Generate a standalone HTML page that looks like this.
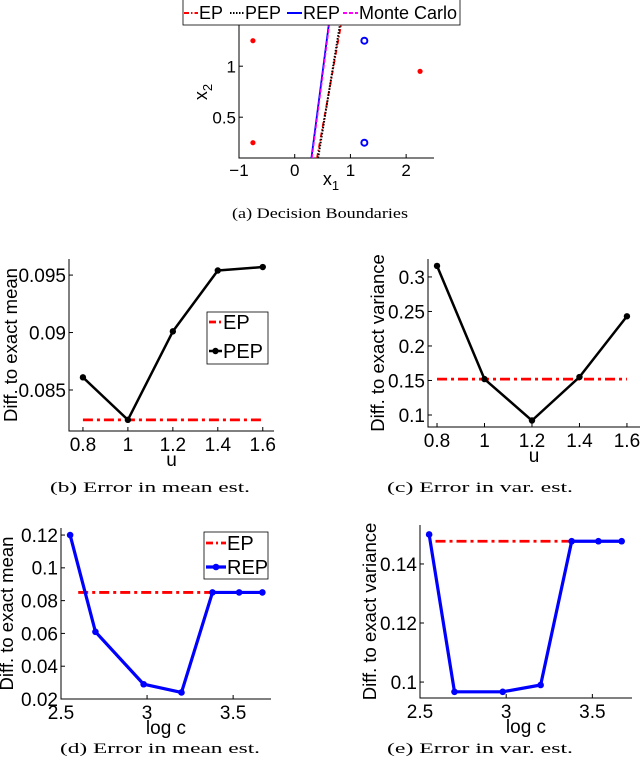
<!DOCTYPE html>
<html><head><meta charset="utf-8">
<style>
html,body{margin:0;padding:0;background:#fff;}
svg{display:block;}
text{font-family:"Liberation Sans",sans-serif;fill:#000;}
.cap{font-family:"Liberation Serif",serif;}
</style></head>
<body>
<svg id="fig" width="640" height="768" viewBox="0 0 640 768" xmlns="http://www.w3.org/2000/svg"></svg>
<script>
// ---- data ----
const aRedX=[-0.75,-0.75,2.25];
const aRedY=[0.25,1.25,0.95];
const aBlueX=[1.25,1.25];
const aBlueY=[1.25,0.25];
const aEPX=[0.40,0.83]; const aEPY=[0.1,1.4];
const aPEPX=[0.42,0.81]; const aPEPY=[0.1,1.4];
const aREPX=[0.30,0.61]; const aREPY=[0.1,1.4];
const aMCX=[0.31,0.62]; const aMCY=[0.1,1.4];
const aXTicks=[-1,0,1,2]; const aYTicks=[0.5,1];

const uVals=[0.8,1.0,1.2,1.4,1.6];
const bPEP=[0.0861,0.0824,0.0901,0.0954,0.0957];
const bEP=0.0824;
const bYTicks=[0.085,0.09,0.095];
const bYLabels=["0.085","0.09","0.095"];
const cPEP=[0.316,0.152,0.092,0.155,0.243];
const cEP=0.152;
const cYTicks=[0.1,0.15,0.2,0.25,0.3];
const cYLabels=["0.1","0.15","0.2","0.25","0.3"];
const uTicks=[0.8,1.0,1.2,1.4,1.6];
const uLabels=["0.8","1","1.2","1.4","1.6"];

const logC=[2.553,2.70,2.98,3.20,3.38,3.535,3.67];
const dREP=[0.120,0.061,0.029,0.024,0.085,0.085,0.085];
const dEP=0.085; const dEPRange=[2.6,3.4];
const dYTicks=[0.02,0.04,0.06,0.08,0.1,0.12];
const dYLabels=["0.02","0.04","0.06","0.08","0.1","0.12"];
const eREP=[0.150,0.0967,0.0967,0.099,0.1477,0.1477,0.1477];
const eEP=0.1477; const eEPRange=[2.59,3.4];
const eYTicks=[0.1,0.12,0.14];
const eYLabels=["0.1","0.12","0.14"];
const cTicks=[2.5,3,3.5];
const cLabels=["2.5","3","3.5"];

const NS="http://www.w3.org/2000/svg";
const svg=document.getElementById('fig');
function el(tag,attrs,parent){const e=document.createElementNS(NS,tag);for(const k in attrs)e.setAttribute(k,attrs[k]);(parent||svg).appendChild(e);return e;}
function mkScale(d0,d1,p0,p1){return v=>p0+(v-d0)/(d1-d0)*(p1-p0);}
const DASHDOT="10 4 3 4";

function axes(g,X,Y,box,xt,xl,yt,yl,fs,name){
  const [L,T,R,B]=box;
  const ax=el('path',{d:`M${L},${T}V${B}H${R}`,stroke:'#000','stroke-width':1,fill:'none'},g);
  
  
  xt.forEach((v,i)=>{
    const x=X(v);
    const tk=el('line',{x1:x,x2:x,y1:B,y2:B-4,stroke:'#000'},g);
    
    
    const t=el('text',{x:x,y:B+fs+1,'text-anchor':'middle','font-size':fs},g);
    t.textContent=xl[i];
    
    
  });
  yt.forEach((v,i)=>{
    const y=Y(v);
    const tk=el('line',{x1:L,x2:L+4,y1:y,y2:y,stroke:'#000'},g);
    
    
    const t=el('text',{x:L-3,y:y+fs*0.36,'text-anchor':'end','font-size':fs},g);
    t.textContent=yl[i];
    
    
  });
}
function polyline(g,xs,ys,X,Y,attrs,name){
  const pts=xs.map((v,i)=>X(v)+','+Y(ys[i])).join(' ');
  const p=el('polyline',Object.assign({points:pts,fill:'none'},attrs),g);
  
  
}
function dots(g,xs,ys,X,Y,r,color,name){
  xs.forEach((v,i)=>{
    const c=el('circle',{cx:X(v),cy:Y(ys[i]),r:r,fill:color},g);
    
    
  });
}
function text(g,x,y,s,fs,attrs,name){
  const t=el('text',Object.assign({x:x,y:y,'font-size':fs},attrs||{}),g);
  t.textContent=s;
  
  
  return t;
}

// ---- panel a ----
(function(){
  const g=el('g',{});
  
  
  const X=mkScale(-1,2.5,239,434), Y=mkScale(0.1,1.4,158,25.4);
  axes(g,X,Y,[239,20,434,158],aXTicks,["\u22121","0","1","2"],aYTicks,["0.5","1"],17,'panel-a');
  polyline(g,aEPX,aEPY,X,Y,{stroke:'#f00','stroke-width':1.8,'stroke-dasharray':'5 2 1.5 2'},'ep-boundary');
  polyline(g,aPEPX,aPEPY,X,Y,{stroke:'#000','stroke-width':2,'stroke-dasharray':'1.5 1.5'},'pep-boundary');
  polyline(g,aREPX,aREPY,X,Y,{stroke:'#00f','stroke-width':1.8},'rep-boundary');
  polyline(g,aMCX,aMCY,X,Y,{stroke:'#f0f','stroke-width':1.5,'stroke-dasharray':'4 2'},'monte-carlo-boundary');
  aRedX.forEach((v,i)=>{
    const c=el('circle',{cx:X(v),cy:Y(aRedY[i]),r:2.6,fill:'#f00'},g);
    
    
  });
  aBlueX.forEach((v,i)=>{
    const c=el('circle',{cx:X(v),cy:Y(aBlueY[i]),r:3,fill:'none',stroke:'#00f','stroke-width':2}, g);
    
    
  });
  const lg=el('g',{},g);
  
  
  el('rect',{x:183,y:-1,width:277,height:26,fill:'#fff',stroke:'#000','stroke-width':0.8},lg);
  const ent=[[184,198,'EP','#f00','5 2 1.5 2'],[230,244,'PEP','#000','1.5 1.5'],[287,302,'REP','#00f',''],[343,358,'Monte Carlo','#f0f','4 2']];
  ent.forEach(e=>{
    const ln=el('line',{x1:e[0],x2:e[1],y1:13,y2:13,stroke:e[3],'stroke-width':2,'stroke-dasharray':e[4]},lg);
    
    
    text(lg,e[1]+1,19,e[2],18,{},'legend-entry-'+e[2].toLowerCase().replace(' ','-'));
  });
  const xl=text(g,331,185,'x',18,{'text-anchor':'middle'},'x-axis-title');
  const xs=el('tspan',{'font-size':13,dy:5},xl); xs.textContent='1';
  const yl=el('text',{transform:'translate(207,92) rotate(-90)','font-size':18,'text-anchor':'middle'},g);
  yl.textContent='x';
  const ys=el('tspan',{'font-size':13,dy:5},yl); ys.textContent='2';
  
  
  text(g,320,218,'(a) Decision Boundaries',15,{'text-anchor':'middle',class:'cap',textLength:176,lengthAdjust:'spacingAndGlyphs'},'caption-a');
})();

function panel(opts){
  const g=el('g',{});
  
  
  const [L,T,R,B]=opts.box;
  const X=mkScale(opts.xlim[0],opts.xlim[1],L,R), Y=mkScale(opts.ylim[0],opts.ylim[1],B,T);
  axes(g,X,Y,opts.box,opts.xt,opts.xl,opts.yt,opts.yl,19,opts.name);
  polyline(g,opts.epRange,[opts.ep,opts.ep],X,Y,{stroke:'#f00','stroke-width':2.8,'stroke-dasharray':DASHDOT},'ep-line');
  polyline(g,opts.xs,opts.ys,X,Y,{stroke:opts.color,'stroke-width':opts.lw,'stroke-linejoin':'round'},opts.seriesName+'-line');
  dots(g,opts.xs,opts.ys,X,Y,opts.r,opts.color,opts.seriesName+'-point');
  text(g,(L+R)/2,B+35,opts.xtitle,19,{'text-anchor':'middle'},'x-axis-title');
  const yl=el('text',{transform:`translate(${opts.ylx},${(T+B)/2}) rotate(-90)`,'font-size':18.5,'text-anchor':'middle'},g);
  yl.textContent=opts.ytitle;
  
  
  text(g,opts.capx,opts.capy,opts.caption,15,{'text-anchor':'middle',class:'cap',textLength:opts.capw,lengthAdjust:'spacingAndGlyphs'},'caption');
  if(opts.legend){
    const [lx,ly,lw,lh,y1,y2,ll]=opts.legend;
    const lg=el('g',{},g);
    
    
    el('rect',{x:lx,y:ly,width:lw,height:lh,fill:'#fff',stroke:'#000','stroke-width':0.8},lg);
    const a=el('line',{x1:lx+2,x2:lx+ll,y1:y1,y2:y1,stroke:'#f00','stroke-width':2.8,'stroke-dasharray':'7 3 2 3'},lg);
     
    text(lg,lx+ll+1,y1+7,'EP',20,{},'legend-entry-ep');
    const b=el('line',{x1:lx+2,x2:lx+ll,y1:y2,y2:y2,stroke:opts.color,'stroke-width':opts.lw},lg);
     
    const c=el('circle',{cx:lx+2+(ll-2)/2,cy:y2,r:opts.r,fill:opts.color},lg);
     
    text(lg,lx+ll+1,y2+7,opts.seriesName.toUpperCase(),20,{},'legend-entry-'+opts.seriesName);
  }
}

panel({name:'panel-b-mean-error-u',box:[69,259,274,431],xlim:[0.738,1.65],ylim:[0.08143,0.0964],
  xt:uTicks,xl:uLabels,yt:bYTicks,yl:bYLabels,xs:uVals,ys:bPEP,ep:bEP,epRange:[0.8,1.6],
  color:'#000',lw:2.5,r:3.2,seriesName:'pep',xtitle:'u',ytitle:'Diff. to exact mean',ylx:17,
  caption:'(b) Error in mean est.',capx:150,capy:492,capw:200,legend:[207,312,61,52,322,351,15]});
panel({name:'panel-c-variance-error-u',box:[428,259,640,427],xlim:[0.762,1.655],ylim:[0.0826,0.326],
  xt:uTicks,xl:uLabels,yt:cYTicks,yl:cYLabels,xs:uVals,ys:cPEP,ep:cEP,epRange:[0.8,1.6],
  color:'#000',lw:2.5,r:3.2,seriesName:'pep',xtitle:'u',ytitle:'Diff. to exact variance',ylx:384,
  caption:'(c) Error in var. est.',capx:480,capy:492,capw:186});
panel({name:'panel-d-mean-error-logc',box:[61,528,271,699],xlim:[2.5,3.72],ylim:[0.02,0.1243],
  xt:cTicks,xl:cLabels,yt:dYTicks,yl:dYLabels,xs:logC,ys:dREP,ep:dEP,epRange:dEPRange,
  color:'#00f',lw:3.2,r:3.3,seriesName:'rep',xtitle:'log c',ytitle:'Diff. to exact mean',ylx:13,
  caption:'(d) Error in mean est.',capx:160,capy:753,capw:200,legend:[204,532,64,47,543,567,22]});
panel({name:'panel-e-variance-error-logc',box:[420,525,632,698],xlim:[2.5,3.73],ylim:[0.0946,0.1532],
  xt:cTicks,xl:cLabels,yt:eYTicks,yl:eYLabels,xs:logC,ys:eREP,ep:eEP,epRange:eEPRange,
  color:'#00f',lw:3.2,r:3.3,seriesName:'rep',xtitle:'log c',ytitle:'Diff. to exact variance',ylx:376,
  caption:'(e) Error in var. est.',capx:480,capy:753,capw:186});
</script>
</body></html>
